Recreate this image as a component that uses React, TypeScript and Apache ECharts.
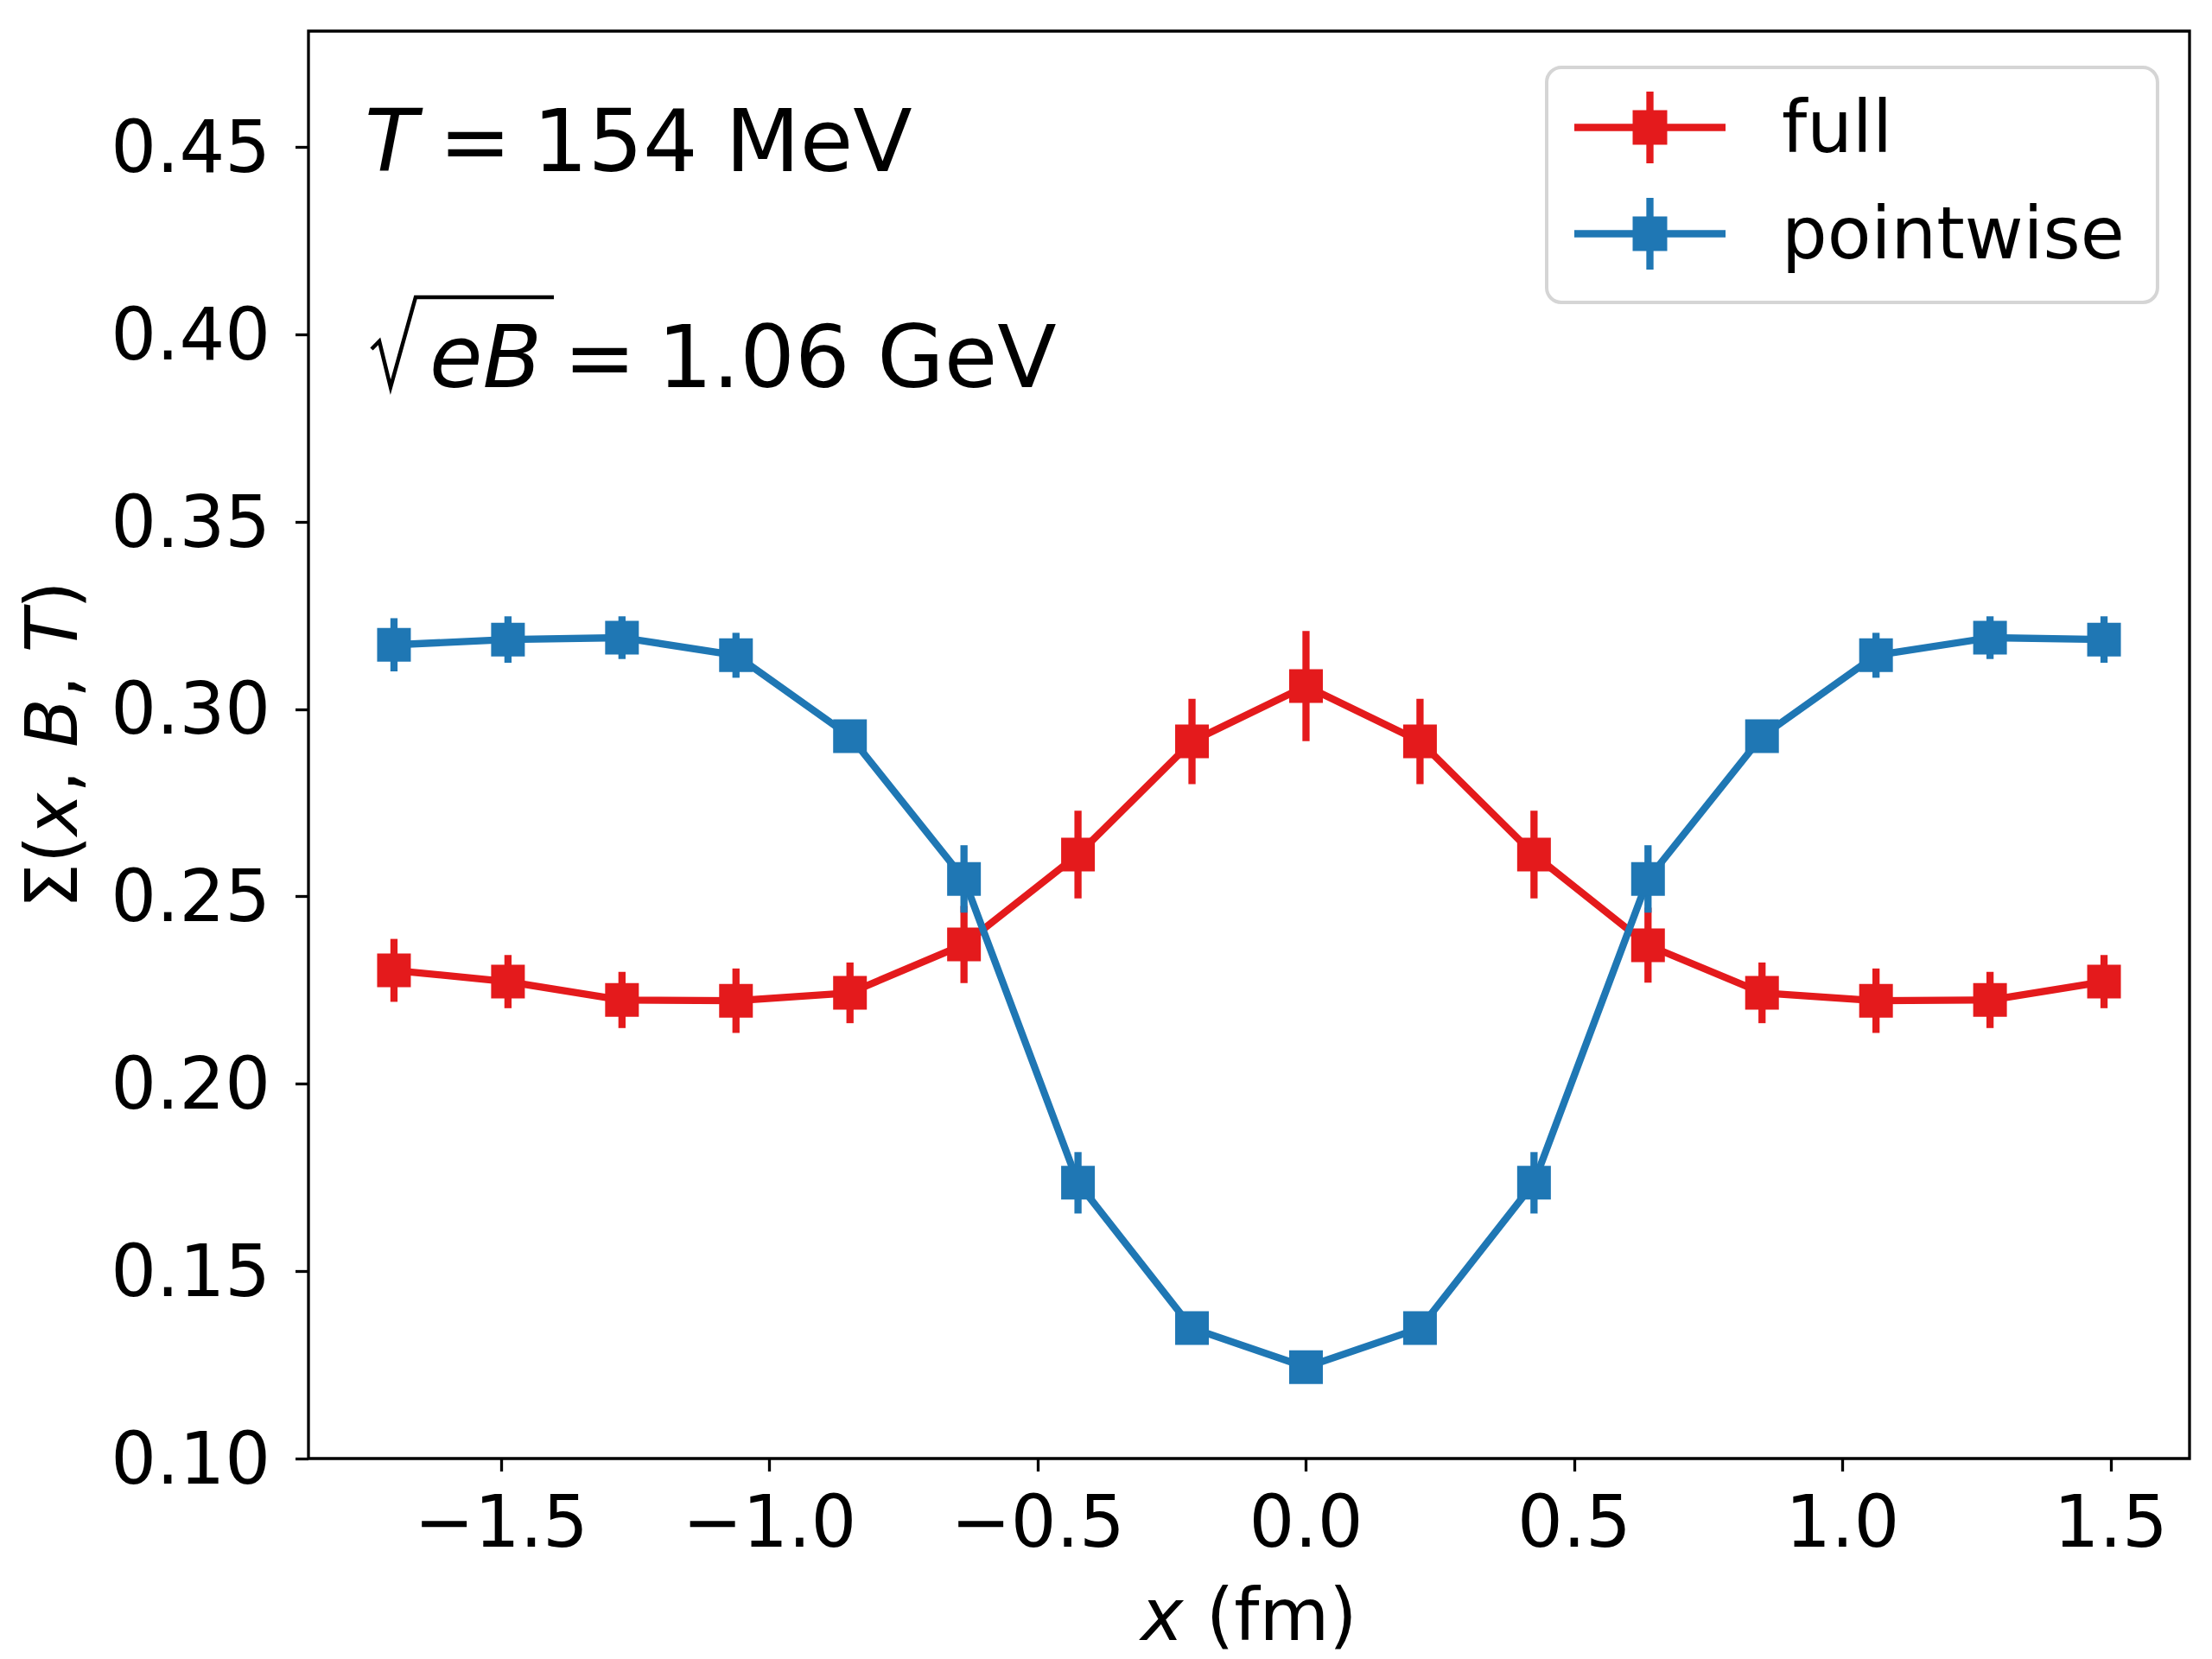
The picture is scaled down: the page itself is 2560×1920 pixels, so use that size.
import { useEffect, useRef } from 'react'
import * as echarts from 'echarts'

// x positions (fm), lattice spacing ~0.2125
const xs = [
  -1.7, -1.4875, -1.275, -1.0625, -0.85, -0.6375, -0.425, -0.2125,
  0, 0.2125, 0.425, 0.6375, 0.85, 1.0625, 1.275, 1.4875,
]

const fullY = [
  0.2303, 0.2273, 0.2224, 0.2222, 0.2243, 0.2372, 0.2612, 0.2914,
  0.3062, 0.2914, 0.2612, 0.2370, 0.2243, 0.2222, 0.2224, 0.2273,
]
const fullErr = [
  0.0084, 0.0071, 0.0075, 0.0086, 0.0081, 0.0103, 0.0117, 0.0114,
  0.0147, 0.0114, 0.0117, 0.0100, 0.0081, 0.0086, 0.0075, 0.0071,
]

const pointY = [
  0.3172, 0.3186, 0.3191, 0.3144, 0.2928, 0.2547, 0.1736, 0.1348,
  0.1244, 0.1348, 0.1736, 0.2547, 0.2928, 0.3144, 0.3191, 0.3186,
]
const pointErr = [
  0.0071, 0.0062, 0.0057, 0.006, 0.0035, 0.009, 0.0082, 0.003,
  0.003, 0.003, 0.0082, 0.009, 0.0035, 0.006, 0.0057, 0.0062,
]

const xTicks = [-1.5, -1.0, -0.5, 0.0, 0.5, 1.0, 1.5]
const yTicks = [0.1, 0.15, 0.2, 0.25, 0.3, 0.35, 0.4, 0.45]

const RED = '#e41a1c'
const BLUE = '#1f77b4'
const FONT = 'DejaVu Sans'
const LW = 8.3

// legend handle: horizontal line + square marker + vertical error bar
const HANDLE =
  'path://M0 37.35H175V45.65H0Z M67.5 21.5H107.5V61.5H67.5Z M83.35 0H91.65V83H83.35Z'

function errorSeries(name: string, color: string, ys: number[], errs: number[], z: number) {
  return {
    name,
    type: 'custom',
    z,
    silent: true,
    color,
    itemStyle: { color },
    data: xs.map((x, i) => [x, ys[i], errs[i]]),
    renderItem: (_params: any, api: any) => {
      const x = api.value(0)
      const y = api.value(1)
      const e = api.value(2)
      const lo = api.coord([x, y - e])
      const hi = api.coord([x, y + e])
      return {
        type: 'line',
        shape: { x1: lo[0], y1: lo[1], x2: hi[0], y2: hi[1] },
        style: { stroke: color, lineWidth: LW },
      }
    },
  }
}

function lineSeries(name: string, color: string, ys: number[], z: number) {
  return {
    name,
    type: 'line',
    z,
    color,
    data: xs.map((x, i) => [x, ys[i]]),
    symbol: 'rect',
    symbolSize: 39,
    showSymbol: true,
    lineStyle: { color, width: LW },
    itemStyle: { color, borderWidth: 0 },
  }
}

export default function App() {
  const chartRef = useRef<HTMLDivElement>(null)

  useEffect(() => {
    if (!chartRef.current) return
    const chart = echarts.init(chartRef.current, undefined, { renderer: 'svg' })

    const italic = { fontStyle: 'italic', fontFamily: FONT }

    chart.setOption({
      animation: false,
      backgroundColor: '#fff',
      grid: {
        left: 357,
        top: 36,
        width: 2177,
        height: 1652,
        show: true,
        borderColor: '#000',
        borderWidth: 3.3,
        containLabel: false,
        outerBoundsMode: 'none',
      },
      legend: {
        left: 1790,
        top: 78,
        orient: 'vertical',
        padding: [28, 38, 38, 32],
        itemWidth: 175,
        itemHeight: 83,
        itemGap: 40,
        borderColor: '#d5d5d5',
        borderWidth: 4,
        borderRadius: 17,
        backgroundColor: 'rgba(255,255,255,0.8)',
        itemStyle: { borderWidth: 0 },
        textStyle: { fontSize: 83, fontFamily: FONT, color: '#000', padding: [0, 0, 0, 60] },
        data: [
          { name: 'full', icon: HANDLE, itemStyle: { color: RED } },
          { name: 'pointwise', icon: HANDLE, itemStyle: { color: BLUE } },
        ],
      },
      xAxis: {
        type: 'value',
        min: -1.859375,
        max: 1.646875,
        splitLine: { show: false },
        axisLine: { show: false, onZero: false },
        axisTick: {
          show: true,
          inside: false,
          length: 15,
          customValues: xTicks,
          lineStyle: { color: '#000', width: 3.3 },
        },
        axisLabel: {
          customValues: xTicks,
          margin: 32,
          fontSize: 83,
          fontFamily: FONT,
          color: '#000',
          formatter: (v: number) => (v < 0 ? '\u2212' + Math.abs(v).toFixed(1) : v.toFixed(1)),
        },
        name: '{i|x} (fm)',
        nameLocation: 'middle',
        nameGap: 140,
        nameTextStyle: {
          fontSize: 83,
          fontFamily: FONT,
          color: '#000',
          rich: { i: { ...italic, fontSize: 83 } },
        },
      },
      yAxis: {
        type: 'value',
        min: 0.1,
        max: 0.481,
        splitLine: { show: false },
        axisLine: { show: false, onZero: false },
        axisTick: {
          show: true,
          inside: false,
          length: 15,
          customValues: yTicks,
          lineStyle: { color: '#000', width: 3.3 },
        },
        axisLabel: {
          customValues: yTicks,
          margin: 44,
          fontSize: 83,
          fontFamily: FONT,
          color: '#000',
          formatter: (v: number) => v.toFixed(2),
        },
        name: 'Σ({i|x}, {i|B}, {i|T})',
        nameLocation: 'middle',
        nameRotate: 90,
        nameGap: 255,
        nameTextStyle: {
          fontSize: 83,
          fontFamily: FONT,
          color: '#000',
          rich: { i: { ...italic, fontSize: 83 } },
        },
      },
      graphic: [
        {
          type: 'text',
          x: 422,
          y: 163,
          style: {
            text: '{i|T}\u2005=\u2005154 MeV',
            fontSize: 100,
            fontFamily: FONT,
            fill: '#000',
            verticalAlign: 'middle',
            rich: { i: { ...italic, fontSize: 100 } },
          },
        },
        {
          type: 'polyline',
          shape: { points: [[430, 404], [439, 395], [452, 448], [481, 344], [641, 344]] },
          style: { stroke: '#000', lineWidth: 4.5, fill: null },
        },
        {
          type: 'text',
          x: 497,
          y: 413,
          style: {
            text: '{i|eB}\u2005=\u20051.06 GeV',
            fontSize: 100,
            fontFamily: FONT,
            fill: '#000',
            verticalAlign: 'middle',
            rich: { i: { ...italic, fontSize: 100 } },
          },
        },
      ],
      series: [
        lineSeries('full', RED, fullY, 2),
        errorSeries('full', RED, fullY, fullErr, 2),
        lineSeries('pointwise', BLUE, pointY, 3),
        errorSeries('pointwise', BLUE, pointY, pointErr, 3),
      ],
    })

    return () => {
      chart.dispose()
    }
  }, [])

  return (
    <div
      ref={chartRef}
      style={{ position: 'absolute', left: 0, top: 0, width: '2560px', height: '1920px' }}
    ></div>
  )
}
